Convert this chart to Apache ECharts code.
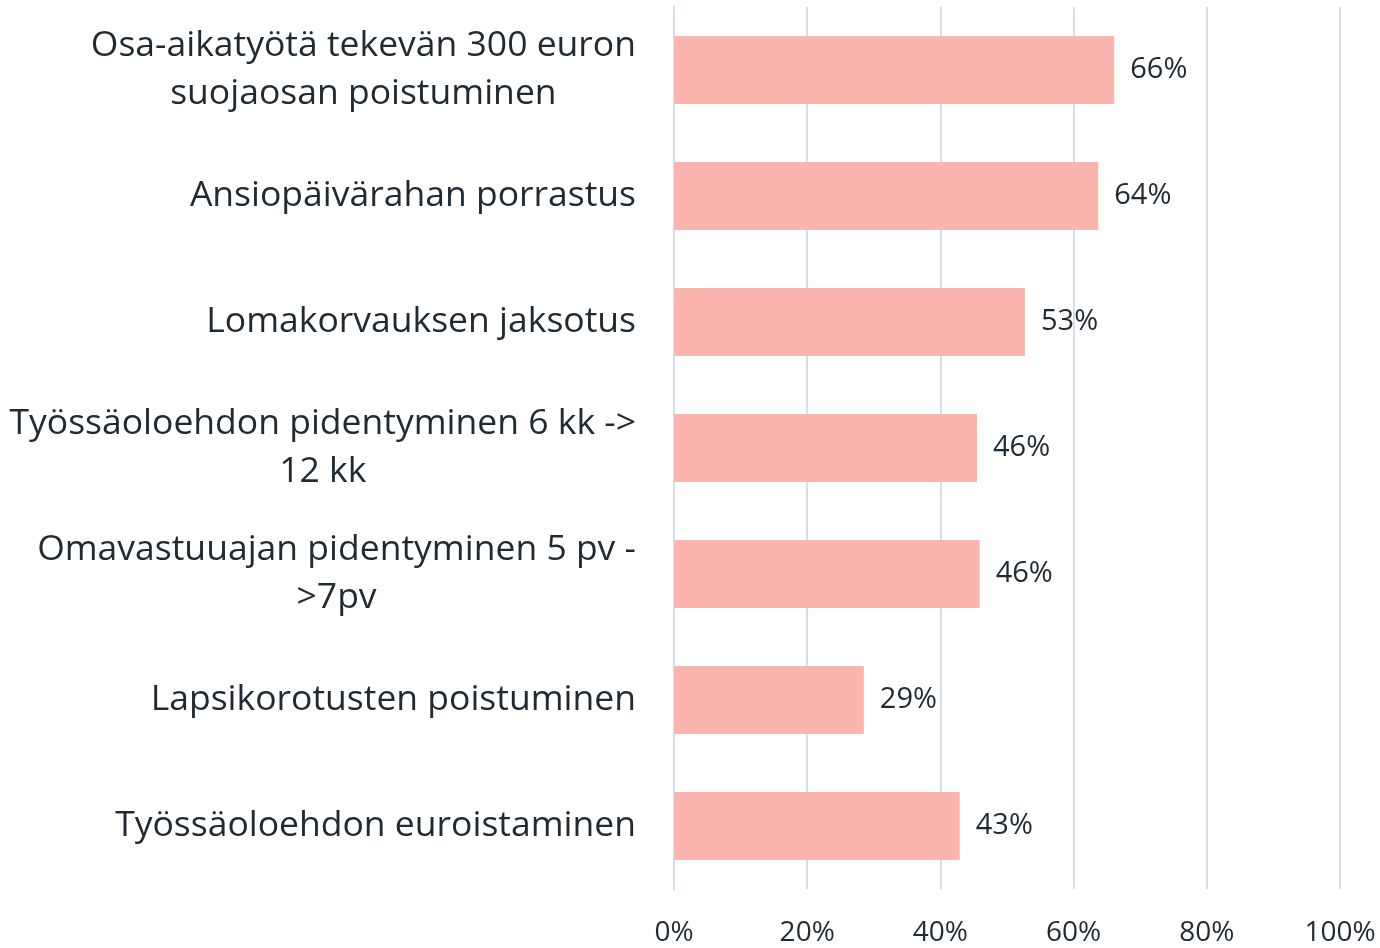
<!DOCTYPE html>
<html><head><meta charset="utf-8">
<script src="https://cdn.jsdelivr.net/npm/echarts@6/dist/echarts.min.js"></script>
<style>html,body{margin:0;padding:0;background:#fff}#c{width:1380px;height:948px}</style>
</head><body><div id="c"></div>
<script>
const categories = [
  "Osa-aikatyötä tekevän 300 euron\nsuojaosan poistuminen",
  "Ansiopäivärahan porrastus",
  "Lomakorvauksen jaksotus",
  "Työssäoloehdon pidentyminen 6 kk ->\n12 kk",
  "Omavastuuajan pidentyminen 5 pv -\n>7pv",
  "Lapsikorotusten poistuminen",
  "Työssäoloehdon euroistaminen"
];
const values = [66.1, 63.7, 52.7, 45.5, 45.9, 28.5, 42.9];
const xTicks = [0, 20, 40, 60, 80, 100];

const chart = echarts.init(document.getElementById('c'));
const font = '"Open Sans", "Noto Sans", sans-serif';
chart.setOption({
  animation: false,
  grid: {left: 674, right: 40, top: 7, bottom: 59, containLabel: false},
  xAxis: {
    type: 'value', min: xTicks[0], max: xTicks[xTicks.length-1], interval: 20,
    axisLine: {show: false}, axisTick: {show: false},
    splitLine: {show: true, lineStyle: {color: '#d6dee7', width: 2}},
    axisLabel: {formatter: v => v + '%', fontSize: 28, color: '#1f2a33', fontFamily: font, margin: 30}
  },
  yAxis: {
    type: 'category', data: categories, inverse: true,
    axisLine: {show: true, lineStyle: {color: '#d6dee7', width: 2}}, axisTick: {show: false},
    axisLabel: {
      margin: 38, align: 'right',
      formatter: v => v.split('\n').map(l => '{c|' + l + '}').join('\n'),
      rich: {c: {fontSize: 35.5, color: '#1f2a33', fontFamily: font, lineHeight: 48, align: 'center'}}
    }
  },
  series: [{
    type: 'bar', data: values, barCategoryGap: '46%',
    itemStyle: {color: '#fbb4ae'},
    label: {show: true, position: 'right', distance: 16, formatter: p => Math.round(p.value) + '%',
      fontSize: 29, color: '#1f2a33', fontFamily: font}
  }]
});
</script></body></html>
